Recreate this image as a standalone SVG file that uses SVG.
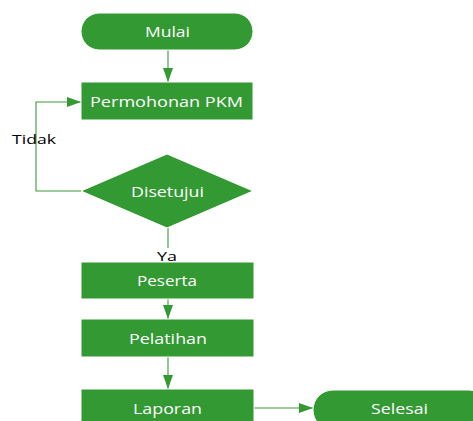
<svg xmlns="http://www.w3.org/2000/svg" width="473" height="421" viewBox="0 0 473 421">
<style>
.n{fill:#339933;stroke:#ffffff;stroke-width:1}
.t{font-family:"Open Sans","Noto Sans",sans-serif;font-size:14px;fill:#ffffff;text-anchor:middle;dominant-baseline:central}
.l{font-family:"Open Sans","Noto Sans",sans-serif;font-size:13px;fill:#000000;text-anchor:middle;dominant-baseline:central}
.c{fill:none;stroke:#3a9a3a;stroke-width:1.1}
</style>
<defs>
<marker id="a" viewBox="0 0 14 10" refX="14" refY="5" markerWidth="14" markerHeight="10" markerUnits="userSpaceOnUse" orient="auto">
<path d="M0,0 L14,5 L0,10 Z" fill="#339933"/>
</marker>
</defs>
<rect width="473" height="421" fill="#ffffff"/>
<g id="connectors">
<path class="c" d="M168,50 V82" marker-end="url(#a)"/>
<path class="c" d="M81,191 H36 V102 H81" marker-end="url(#a)"/>
<path class="c" d="M168,228 V262"/>
<path class="c" d="M168,299 V319" marker-end="url(#a)"/>
<path class="c" d="M168,357 V389" marker-end="url(#a)"/>
<path class="c" d="M254,408 H313" marker-end="url(#a)"/>
</g>
<g id="mulai"><rect class="n" x="81" y="13" width="172" height="37" rx="18.5"/><text class="t" x="167.5" y="31.5" textLength="45" lengthAdjust="spacingAndGlyphs">Mulai</text></g>
<g id="permohonan"><rect class="n" x="81" y="82" width="172" height="38"/><text class="t" x="166.5" y="101" textLength="153" lengthAdjust="spacingAndGlyphs">Permohonan PKM</text></g>
<g id="disetujui"><polygon class="n" points="167,154 253,191 167,228 81,191"/><text class="t" x="167.5" y="191" textLength="73" lengthAdjust="spacingAndGlyphs">Disetujui</text></g>
<g id="peserta"><rect class="n" x="81" y="262" width="173" height="37"/><text class="t" x="167" y="280" textLength="60" lengthAdjust="spacingAndGlyphs">Peserta</text></g>
<g id="pelatihan"><rect class="n" x="81" y="319" width="173" height="38"/><text class="t" x="168" y="338" textLength="78" lengthAdjust="spacingAndGlyphs">Pelatihan</text></g>
<g id="laporan"><rect class="n" x="81" y="389" width="173" height="40"/><text class="t" x="167.5" y="408" textLength="69" lengthAdjust="spacingAndGlyphs">Laporan</text></g>
<g id="selesai"><rect class="n" x="313" y="390" width="176" height="40" rx="20"/><text class="t" x="399.5" y="408" textLength="57" lengthAdjust="spacingAndGlyphs">Selesai</text></g>
<g id="labels">
<text class="l" x="34" y="138.5" textLength="44" lengthAdjust="spacingAndGlyphs">Tidak</text>
<rect x="157" y="248" width="21" height="14" fill="#ffffff"/>
<text class="l" x="167" y="255.5" textLength="20" lengthAdjust="spacingAndGlyphs">Ya</text>
</g>
</svg>
